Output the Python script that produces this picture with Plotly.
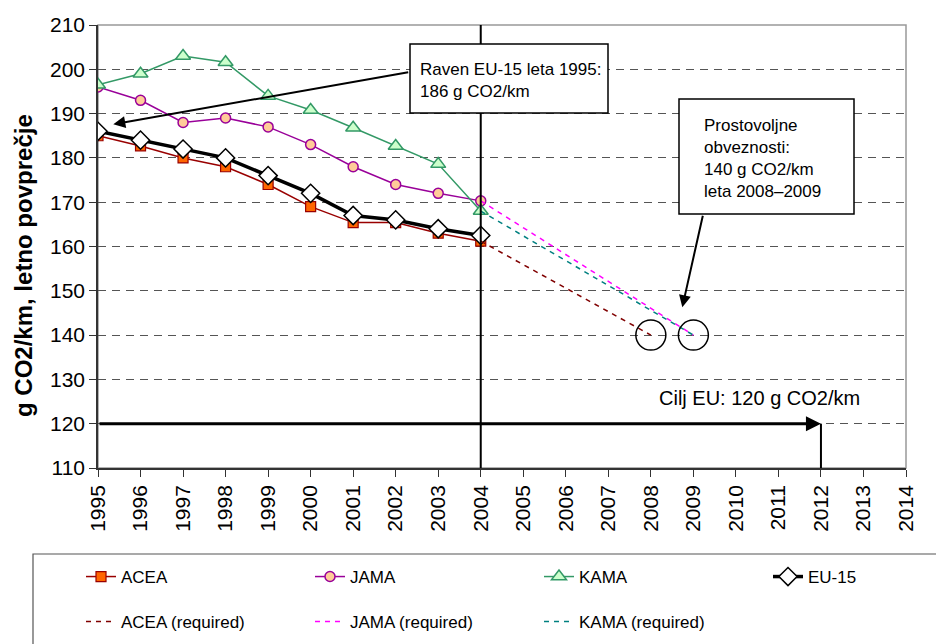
import plotly.graph_objects as go

# ---- data ----
years = [1995, 1996, 1997, 1998, 1999, 2000, 2001, 2002, 2003, 2004]
acea = [185, 182.7, 180, 178, 174, 169, 165.4, 165.4, 163, 161.2]
jama = [196, 193, 188, 189, 187, 183, 178, 174, 172, 170.3]
kama = [196.5, 199, 203, 201.6, 194, 190.8, 186.8, 182.7, 178.6, 168]
eu15 = [186, 184, 182, 180, 176, 172, 167, 166, 164, 162.5]

req_years_acea = [2004, 2008]
req_acea = [161.2, 140]
req_years_jama = [2004, 2009]
req_jama = [170.3, 140]
req_years_kama = [2004, 2009]
req_kama = [168, 140]

target_years = [2008, 2009]
target_values = [140, 140]

eu_goal = 120
goal_start, goal_year = 1995, 2012
split_year = 2004

x_ticks = list(range(1995, 2015))
y_ticks = list(range(110, 211, 10))

FONT = "Arial, Liberation Sans, sans-serif"

# pixel helpers for layout placement
L, R, T, B = 98, 906, 25, 468
W, H = 936, 644
def px_x(p):
    return (p - L) / (R - L)
def px_y(p):
    return (B - p) / (B - T)

fig = go.Figure()

fig.add_trace(go.Scatter(x=years, y=acea, name="ACEA", mode="lines+markers",
    line=dict(color="#990000", width=1.5),
    marker=dict(symbol="square", size=10, color="#FF6600", line=dict(color="#990000", width=1.2)),
    legend="legend"))
fig.add_trace(go.Scatter(x=years, y=jama, name="JAMA", mode="lines+markers",
    line=dict(color="#990099", width=1.5),
    marker=dict(symbol="circle", size=10, color="#FFCC99", line=dict(color="#990099", width=1.5)),
    legend="legend"))
fig.add_trace(go.Scatter(x=years, y=kama, name="KAMA", mode="lines+markers",
    line=dict(color="#339966", width=1.5),
    marker=dict(symbol="triangle-up", size=13, color="#CCFFCC", line=dict(color="#339966", width=1.5)),
    legend="legend"))
fig.add_trace(go.Scatter(x=years, y=eu15, name="EU-15", mode="lines+markers",
    line=dict(color="black", width=3.5),
    marker=dict(symbol="diamond", size=14, color="white", line=dict(color="black", width=1.5)),
    legend="legend", legendwidth=80))

fig.add_trace(go.Scatter(x=req_years_acea, y=req_acea, name="ACEA (required)", mode="lines",
    line=dict(color="#800000", width=1.5, dash="5px,5px"), legend="legend2"))
fig.add_trace(go.Scatter(x=req_years_jama, y=req_jama, name="JAMA (required)", mode="lines",
    line=dict(color="#FF00FF", width=1.5, dash="5px,5px"), legend="legend2"))
fig.add_trace(go.Scatter(x=req_years_kama, y=req_kama, name="KAMA (required)", mode="lines",
    line=dict(color="#008080", width=1.5, dash="5px,5px"), legend="legend2"))

fig.add_trace(go.Scatter(x=target_years, y=target_values, mode="markers", showlegend=False,
    marker=dict(symbol="circle-open", size=30, color="black", line=dict(color="black", width=1.5)),
    hoverinfo="skip"))

shapes = [
    # plot frame (top/right gray)
    dict(type="rect", xref="paper", yref="paper", x0=0, x1=1, y0=0, y1=1,
         line=dict(color="#999999", width=1.5), layer="below"),
    # vertical line at 2004
    dict(type="line", xref="x", yref="y", x0=split_year, x1=split_year, y0=110, y1=210,
         line=dict(color="black", width=2)),
    # vertical tick at 2012
    dict(type="line", xref="x", yref="y", x0=goal_year, x1=goal_year, y0=110, y1=eu_goal,
         line=dict(color="black", width=2)),
    # annotation boxes
    dict(type="rect", xref="paper", yref="paper", x0=px_x(410), x1=px_x(608), y0=px_y(113), y1=px_y(44),
         line=dict(color="black", width=1.5), fillcolor="white", layer="above"),
    dict(type="rect", xref="paper", yref="paper", x0=px_x(679), x1=px_x(854), y0=px_y(214), y1=px_y(99),
         line=dict(color="black", width=1.5), fillcolor="white", layer="above"),
    # legend frame
    dict(type="rect", xref="paper", yref="paper", x0=px_x(33), x1=px_x(945), y0=px_y(655), y1=px_y(554),
         line=dict(color="#555555", width=1.2), fillcolor="rgba(0,0,0,0)", layer="above"),
]

annotations = [
    dict(text="g CO2/km, letno povprečje", xref="paper", yref="paper", x=px_x(23), y=px_y(266),
         textangle=-90, showarrow=False, font=dict(family=FONT, size=24, color="black", weight="bold"),
         xanchor="center", yanchor="middle"),
    dict(text="Raven EU-15 leta 1995:<br>186 g CO2/km", xref="paper", yref="paper",
         x=px_x(418), y=px_y(80), xanchor="left", yanchor="middle", align="left", showarrow=False,
         font=dict(family=FONT, size=17, color="black")),
    dict(text="Prostovoljne<br>obveznosti:<br>140 g CO2/km<br>leta 2008–2009", xref="paper", yref="paper",
         x=px_x(702), y=px_y(158), xanchor="left", yanchor="middle", align="left", showarrow=False,
         font=dict(family=FONT, size=17, color="black")),
    dict(text="Cilj EU: 120 g CO2/km", xref="paper", yref="paper",
         x=px_x(759), y=px_y(398), xanchor="center", yanchor="middle", showarrow=False,
         font=dict(family=FONT, size=20, color="black")),
    # arrows
    dict(text="", x=1995.36, y=187.6, ax=2002.33, ay=199.4, xref="x", yref="y", axref="x", ayref="y",
         showarrow=True, arrowhead=2, arrowsize=1.2, arrowwidth=2, arrowcolor="black", standoff=0),
    dict(text="", x=2008.74, y=146.3, ax=2009.23, ay=167.3, xref="x", yref="y", axref="x", ayref="y",
         showarrow=True, arrowhead=2, arrowsize=1.2, arrowwidth=2, arrowcolor="black", standoff=0),
    dict(text="", x=goal_year, y=eu_goal, ax=goal_start, ay=eu_goal, xref="x", yref="y", axref="x", ayref="y",
         showarrow=True, arrowhead=2, arrowsize=1, arrowwidth=3, arrowcolor="black", standoff=0),
]

legend_common = dict(orientation="h", xanchor="left", yanchor="middle",
                     font=dict(family=FONT, size=17, color="black"),
                     bgcolor="rgba(0,0,0,0)", borderwidth=0,
                     entrywidth=184, entrywidthmode="pixels", itemsizing="trace")

fig.update_layout(
    width=W, height=H,
    margin=dict(l=L, r=W - R, t=T, b=H - B, autoexpand=False),
    paper_bgcolor="white", plot_bgcolor="white",
    font=dict(family=FONT, size=21, color="black"),
    showlegend=True,
    legend=dict(x=px_x(81), y=px_y(577), **legend_common),
    legend2=dict(x=px_x(81), y=px_y(622), **legend_common),
    shapes=shapes,
    annotations=annotations,
    xaxis=dict(range=[1995, 2014], tickmode="array", tickvals=x_ticks, ticktext=[str(v) for v in x_ticks],
               tickangle=-90, ticks="outside", ticklen=7, tickwidth=1.2, tickcolor="#333333",
               showline=True, linecolor="#333333", linewidth=1.5, showgrid=False, zeroline=False,
               tickfont=dict(family=FONT, size=21, color="black")),
    yaxis=dict(range=[110, 210], tickmode="array", tickvals=y_ticks, ticks="outside", ticklen=7,
               tickwidth=1.2, tickcolor="#333333", showline=True, linecolor="#333333", linewidth=1.5,
               showgrid=True, gridcolor="#555555", gridwidth=1, griddash="8px,6px", zeroline=False,
               tickfont=dict(family=FONT, size=21, color="black")),
)

fig.write_html("out.html", config={"displayModeBar": False},
               post_script="document.body.style.margin='0';document.body.style.overflow='hidden';")
